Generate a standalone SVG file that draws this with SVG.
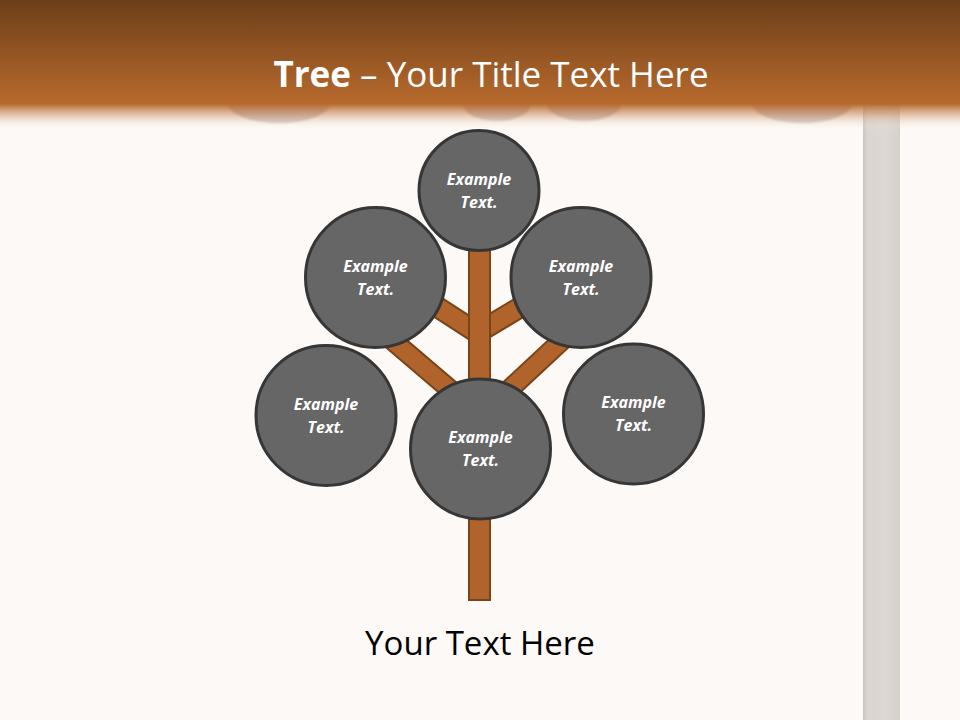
<svg xmlns="http://www.w3.org/2000/svg" width="960" height="720" viewBox="0 0 960 720">
  <defs>
    <linearGradient id="hdr" x1="0" y1="0" x2="0" y2="130" gradientUnits="userSpaceOnUse">
      <stop offset="0" stop-color="#6c3f19"/>
      <stop offset="0.8" stop-color="#b86a2d"/>
      <stop offset="0.88" stop-color="#cc9064" stop-opacity="0.55"/>
      <stop offset="1" stop-color="#fcf9f6" stop-opacity="0"/>
    </linearGradient>
    <linearGradient id="bumpfill" x1="0" y1="0" x2="0" y2="1">
      <stop offset="0" stop-color="#a08a7e"/>
      <stop offset="0.6" stop-color="#b4a69e"/>
      <stop offset="1" stop-color="#d3c9c3"/>
    </linearGradient>
    <linearGradient id="bar" x1="0" y1="0" x2="1" y2="0">
      <stop offset="0" stop-color="#cbc3be"/>
      <stop offset="0.12" stop-color="#dbd5d1"/>
      <stop offset="0.6" stop-color="#ddd8d4"/>
      <stop offset="1" stop-color="#d6d0cb"/>
    </linearGradient>
    <filter id="soft" x="-10%" y="-30%" width="120%" height="160%">
      <feGaussianBlur stdDeviation="1.2"/>
    </filter>
    <style>
      .node circle { fill: #666666; stroke: #363636; stroke-width: 3; }
      .node text { fill: #ffffff; font-family: "Open Sans", "DejaVu Sans", sans-serif; font-size: 16px; font-weight: bold; font-style: italic; text-anchor: middle; }
      .wood { fill: #b0632a; stroke: #7a4419; stroke-width: 2; }
      .bump { fill: url(#bumpfill); filter: url(#soft); }
    </style>
  </defs>

  <rect x="0" y="0" width="960" height="720" fill="#fcf9f6"/>

  <!-- right pillar -->
  <rect x="863" y="100" width="37" height="620" fill="url(#bar)"/>

  <!-- header cloud shadows -->
  <g id="clouds">
    <ellipse class="bump" cx="279" cy="103" rx="51" ry="20"/>
    <ellipse class="bump" cx="497" cy="104" rx="34" ry="17"/>
    <ellipse class="bump" cx="584" cy="104" rx="37" ry="17"/>
    <ellipse class="bump" cx="802" cy="103" rx="50" ry="20"/>
  </g>

  <!-- header band -->
  <rect x="0" y="0" width="960" height="130" fill="url(#hdr)"/>

  <g id="title">
    <text x="491" y="87" fill="#ffffff" font-family="'Open Sans', 'DejaVu Sans', sans-serif" font-size="35" text-anchor="middle"><tspan font-weight="bold">Tree</tspan> – Your Title Text Here</text>
  </g>

  <!-- connectors: tree trunk and branches -->
  <g id="connectors">
    <rect class="wood" x="0" y="-9.5" width="125" height="19" transform="translate(372,323) rotate(40.5)"/>
    <rect class="wood" x="0" y="-9.5" width="125" height="19" transform="translate(586,318) rotate(137)"/>
    <rect class="wood" x="0" y="-10" width="62" height="20" transform="translate(479,334) rotate(213)"/>
    <rect class="wood" x="0" y="-10" width="62" height="20" transform="translate(479,332) rotate(-31)"/>
    <rect class="wood" x="469" y="240" width="21" height="360"/>
  </g>

  <g id="node-top" class="node">
    <circle cx="479" cy="190.5" r="60"/>
    <text x="479" y="185">Example</text>
    <text x="479" y="208">Text.</text>
  </g>
  <g id="node-upper-left" class="node">
    <circle cx="375.5" cy="277.5" r="70"/>
    <text x="375.5" y="272">Example</text>
    <text x="375.5" y="295">Text.</text>
  </g>
  <g id="node-upper-right" class="node">
    <circle cx="581" cy="277.5" r="70"/>
    <text x="581" y="272">Example</text>
    <text x="581" y="295">Text.</text>
  </g>
  <g id="node-lower-left" class="node">
    <circle cx="326" cy="415.5" r="70"/>
    <text x="326" y="409.5">Example</text>
    <text x="326" y="432.5">Text.</text>
  </g>
  <g id="node-lower-right" class="node">
    <circle cx="633.5" cy="414" r="70"/>
    <text x="633.5" y="408">Example</text>
    <text x="633.5" y="431">Text.</text>
  </g>
  <g id="node-center" class="node">
    <circle cx="480.5" cy="449" r="70"/>
    <text x="480.5" y="443">Example</text>
    <text x="480.5" y="466">Text.</text>
  </g>

  <g id="caption">
    <text x="480" y="655" fill="#000000" font-family="'Open Sans', 'DejaVu Sans', sans-serif" font-size="33" text-anchor="middle">Your Text Here</text>
  </g>
</svg>
